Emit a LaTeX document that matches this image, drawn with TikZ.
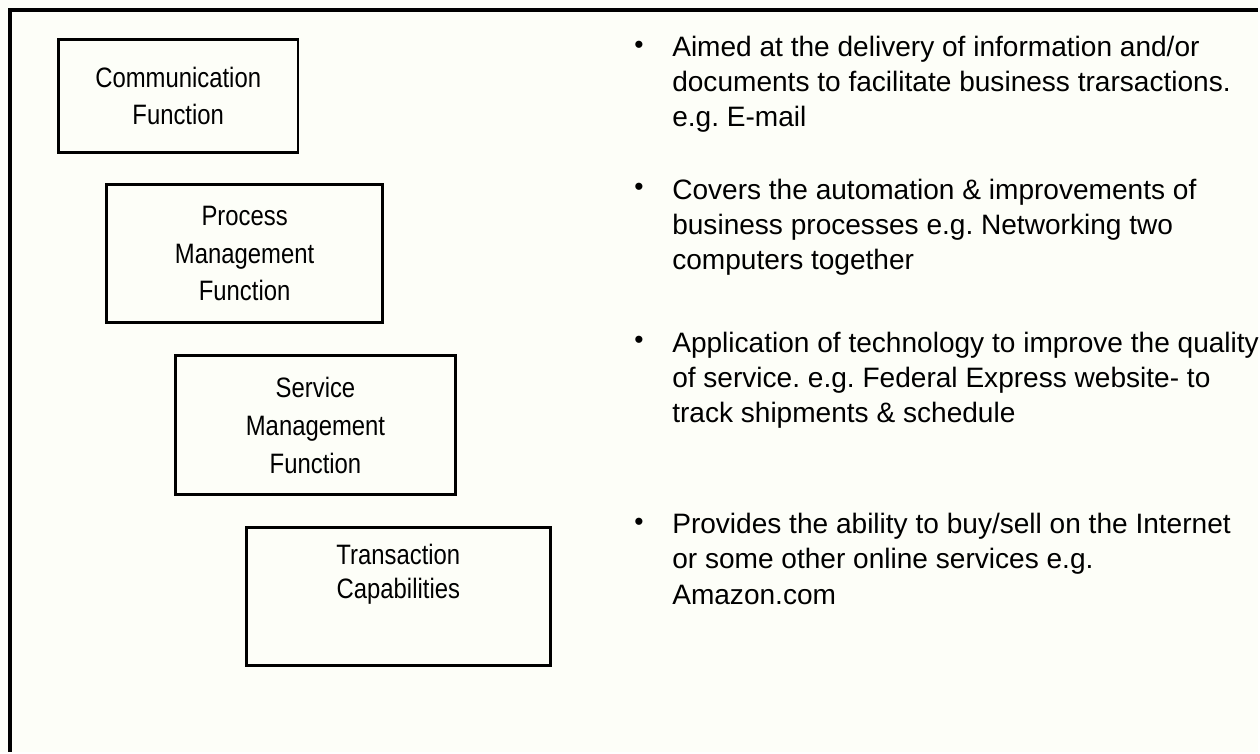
\documentclass[tikz,border=0pt]{standalone}
\usepackage{fontspec}
\setmainfont{Liberation Sans}
\newfontfamily\boxfont{Liberation Sans}[FakeStretch=0.85]
\usepackage{tikz}
\usetikzlibrary{positioning}
\definecolor{papercream}{RGB}{253,254,248}
\frenchspacing
\tikzset{
    funcbox/.style={draw, rectangle, line width=1.7pt, inner sep=0pt, align=center, font=\boxfont\fontsize{16}{21.5}\selectfont},
    functext/.style={inner sep=0pt, align=center, font=\boxfont\fontsize{16}{19.5}\selectfont},
    desc/.style={inner sep=0pt, align=left, anchor=north west, font=\fontsize{16}{20}\selectfont},
    dot/.style={inner sep=0pt, font=\fontsize{15}{16}\selectfont}
}

\begin{document}
\begin{tikzpicture}[x=0.02cm, y=-0.02cm]

    % -----------------------------------------------------------------
    % SFONDO E CORNICE
    % -----------------------------------------------------------------
    \fill[papercream] (0,0) rectangle (1260,753);
    \coordinate (frame_bl) at (10,753);
    \coordinate (frame_tl) at (10,10);
    \coordinate (frame_tr) at (1260,10);
    \draw[line width=2.3pt] (frame_bl) -- (frame_tl) -- (frame_tr);

    % -----------------------------------------------------------------
    % FUNZIONI (scala)
    % -----------------------------------------------------------------
    \node (comm) [funcbox, minimum width=4.8cm, minimum height=2.26cm] at (178.5,96) {Communication\\Function};
    \node (proc) [funcbox, minimum width=5.54cm, minimum height=2.78cm] at (245,254) {Process\\Management\\Function};
    \node (serv) [funcbox, minimum width=5.62cm, minimum height=2.78cm] at (316,426) {Service\\Management\\Function};
    \node (trans) [funcbox, minimum width=6.1cm, minimum height=2.76cm] at (399,597.5) {};
    \node (trans_txt) [functext] at (399,575) {Transaction\\Capabilities};

    % -----------------------------------------------------------------
    % DESCRIZIONI
    % -----------------------------------------------------------------
    \node (d1) [desc] at (673,36) {Aimed at the delivery of information and/or\\documents to facilitate business trarsactions.\\e.g. E-mail};
    \node (b1) [dot] at (640,47) {\textbullet};

    \node (d2) [desc] at (673,179) {Covers the automation \& improvements of\\business processes e.g. Networking two\\computers together};
    \node (b2) [dot] at (640,190) {\textbullet};

    \node (d3) [desc] at (673,332) {Application of technology to improve the quality\\of service. e.g. Federal Express website- to\\track shipments \& schedule};
    \node (b3) [dot] at (640,343) {\textbullet};

    \node (d4) [desc] at (673,514) {Provides the ability to buy/sell on the Internet\\or some other online services e.g.\\Amazon.com};
    \node (b4) [dot] at (640,525) {\textbullet};

\end{tikzpicture}
\end{document}
